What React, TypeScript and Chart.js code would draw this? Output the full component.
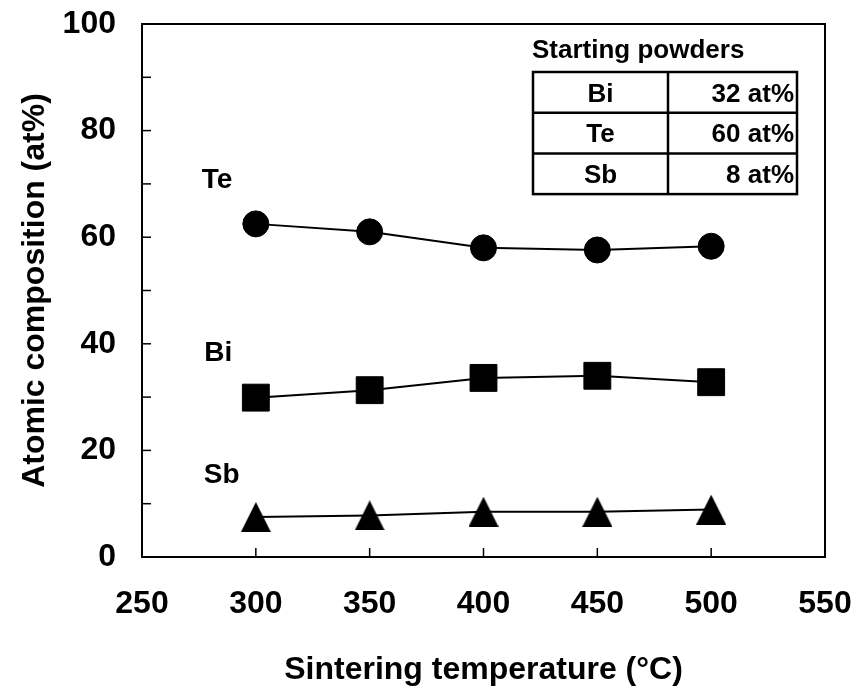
import React, { useEffect, useRef } from 'react';
import { Chart, registerables } from 'chart.js';

Chart.register(...registerables);

// ---- data ----
const temperatures = [300, 350, 400, 450, 500];
const teValues = [62.5, 61.0, 58.0, 57.6, 58.3];
const biValues = [29.9, 31.3, 33.6, 34.0, 32.8];
const sbValues = [7.5, 7.8, 8.5, 8.5, 8.9];
const seriesNames = ['Te', 'Bi', 'Sb'];
const xAxisTitle = 'Sintering temperature (\u00B0C)';
const yAxisTitle = 'Atomic composition (at%)';
const tableTitle = 'Starting powders';
const tableElements = ['Bi', 'Te', 'Sb'];
const tableAmounts = [32, 60, 8];

const FONT = '"Liberation Sans", Arial, Helvetica, sans-serif';

function makeTriangle(w: number, h: number) {
  const c = document.createElement('canvas');
  c.width = w;
  c.height = h;
  const ctx = c.getContext('2d')!;
  ctx.fillStyle = '#000';
  ctx.beginPath();
  ctx.moveTo(w / 2, 0);
  ctx.lineTo(w, h);
  ctx.lineTo(0, h);
  ctx.closePath();
  ctx.fill();
  return c;
}

const decorPlugin = {
  id: 'decor',
  afterDraw(chart: any) {
    const { ctx, chartArea, scales } = chart;
    const xs = scales.x;
    const ys = scales.y;
    ctx.save();
    ctx.strokeStyle = '#000';
    ctx.fillStyle = '#000';
    // frame
    ctx.lineWidth = 2;
    ctx.strokeRect(chartArea.left, chartArea.top, chartArea.right - chartArea.left, chartArea.bottom - chartArea.top);
    // inward ticks
    ctx.lineWidth = 1.5;
    xs.ticks.forEach((t: any) => {
      const px = xs.getPixelForValue(t.value);
      ctx.beginPath();
      ctx.moveTo(px, chartArea.bottom);
      ctx.lineTo(px, chartArea.bottom - 9);
      ctx.stroke();
    });
    ys.ticks.forEach((t: any) => {
      const py = ys.getPixelForValue(t.value);
      ctx.beginPath();
      ctx.moveTo(chartArea.left, py);
      ctx.lineTo(chartArea.left + 9, py);
      ctx.stroke();
    });
    // series labels (data coordinates)
    const labelAnchors: Record<string, [number, number]> = { Te: [283, 70.7], Bi: [283.5, 38.3], Sb: [285, 15.4] };
    ctx.font = `bold 28px ${FONT}`;
    ctx.textAlign = 'center';
    ctx.textBaseline = 'middle';
    seriesNames.forEach((n) => {
      const [vx, vy] = labelAnchors[n];
      ctx.fillText(n, xs.getPixelForValue(vx), ys.getPixelForValue(vy));
    });
    // inset table
    const tRight = chartArea.right - 28;
    const tLeft = tRight - 264;
    const tTop = chartArea.top + 48;
    const rowH = 40.7;
    const colSplit = tLeft + 135;
    ctx.font = `bold 26px ${FONT}`;
    ctx.textAlign = 'left';
    ctx.textBaseline = 'alphabetic';
    ctx.fillText(tableTitle, tLeft - 1, tTop - 14);
    ctx.lineWidth = 2.5;
    ctx.strokeRect(tLeft, tTop, tRight - tLeft, rowH * tableElements.length);
    for (let i = 1; i < tableElements.length; i++) {
      ctx.beginPath();
      ctx.moveTo(tLeft, tTop + rowH * i);
      ctx.lineTo(tRight, tTop + rowH * i);
      ctx.stroke();
    }
    ctx.beginPath();
    ctx.moveTo(colSplit, tTop);
    ctx.lineTo(colSplit, tTop + rowH * tableElements.length);
    ctx.stroke();
    ctx.textBaseline = 'middle';
    tableElements.forEach((el, i) => {
      const cy = tTop + rowH * i + rowH / 2 + 2;
      ctx.textAlign = 'center';
      ctx.fillText(el, (tLeft + colSplit) / 2, cy);
      ctx.textAlign = 'right';
      ctx.fillText(`${tableAmounts[i]} at%`, tRight - 3, cy);
    });
    ctx.restore();
  },
};

export default function App() {
  const ref = useRef<HTMLCanvasElement>(null);
  useEffect(() => {
    if (!ref.current) return;
    const tri = makeTriangle(30, 30);
    const common = {
      borderColor: '#000',
      backgroundColor: '#000',
      pointBackgroundColor: '#000',
      pointBorderColor: '#000',
      borderWidth: 2,
      pointBorderWidth: 1,
      tension: 0,
    };
    const chart = new Chart(ref.current, {
      type: 'line',
      data: {
        datasets: [
          { ...common, label: seriesNames[0], data: temperatures.map((t, i) => ({ x: t, y: teValues[i] })), pointStyle: 'circle', pointRadius: 13 },
          { ...common, label: seriesNames[1], data: temperatures.map((t, i) => ({ x: t, y: biValues[i] })), pointStyle: 'rect', pointRadius: 19 },
          { ...common, label: seriesNames[2], data: temperatures.map((t, i) => ({ x: t, y: sbValues[i] })), pointStyle: tri as any, pointRadius: 15 },
        ],
      },
      options: {
        animation: false,
        responsive: false,
        events: [],
        layout: { padding: { top: 24, right: 30, left: 0, bottom: 0 } },
        plugins: { legend: { display: false }, tooltip: { enabled: false } },
        scales: {
          x: {
            type: 'linear',
            min: 250,
            max: 550,
            grid: { display: false, drawTicks: false },
            border: { display: false },
            ticks: { stepSize: 50, autoSkip: false, padding: 28, color: '#000', font: { family: FONT, size: 32, weight: 'bold' } },
            title: { display: true, text: xAxisTitle, color: '#000', font: { family: FONT, size: 32, weight: 'bold' }, padding: { top: 0, bottom: 4 } },
            afterFit: (s: any) => { s.height = 136; s.paddingLeft = 0; s.paddingRight = 0; },
          },
          y: {
            type: 'linear',
            min: 0,
            max: 100,
            grid: { display: false, drawTicks: false },
            border: { display: false },
            ticks: {
              stepSize: 10,
              autoSkip: false,
              padding: 26,
              color: '#000',
              font: { family: FONT, size: 32, weight: 'bold' },
              callback: (v: any) => (Number(v) % 20 === 0 ? String(v) : ''),
            },
            title: { display: true, text: yAxisTitle, color: '#000', font: { family: FONT, size: 32, weight: 'bold' }, padding: { top: 16, bottom: 0 } },
            afterFit: (s: any) => { s.width = 142; s.paddingTop = 0; s.paddingBottom = 0; },
          },
        },
      } as any,
      plugins: [decorPlugin],
    });
    return () => chart.destroy();
  }, []);
  return (
    <div style={{ position: 'fixed', left: 0, top: 0, width: 855, height: 693, background: '#fff' }}>
      <canvas ref={ref} width={855} height={693} style={{ display: 'block' }} />
    </div>
  );
}
